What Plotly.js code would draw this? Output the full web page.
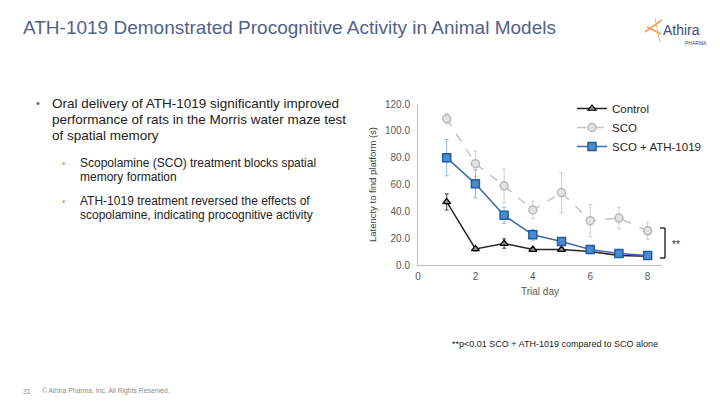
<!DOCTYPE html>
<html><head><meta charset="utf-8">
<script src="https://cdn.plot.ly/plotly-3.0.1.min.js"></script>
<style>html,body{margin:0;padding:0;background:#fff;}#chart{width:720px;height:405px;}</style>
</head><body><div id="chart"></div>
<script>
const days = [1, 2, 3, 4, 5, 6, 7, 8];
const controlMean = [47, 12, 16, 11.5, 11.5, 10, 7, 6.5];
const controlErr  = [6, 1.5, 3.5, 1.5, 1.5, 1.5, 1, 1];
const scoMean = [109, 75.5, 59, 41, 54, 33, 35, 25.5];
const scoErr  = [4, 9.5, 12.5, 6.5, 15, 12, 8, 6.5];
const athMean = [80, 60.5, 37, 22.5, 17.5, 11.5, 8.5, 7];
const athErr  = [13.5, 10.5, 6, 4, 2.5, 2, 1.5, 1];
const names = ["Control", "SCO", "SCO + ATH-1019"];
const xTicks = [0, 2, 4, 6, 8];
const yTicks = [0, 20, 40, 60, 80, 100, 120];

const traces = [
  {x: days, y: controlMean, name: names[0], type: "scatter", mode: "lines+markers",
   line: {color: "#262626", width: 1.5},
   marker: {symbol: "triangle-up", size: 7, color: "#8c8c8c", line: {color: "#000", width: 1.2}},
   error_y: {type: "data", array: controlErr, visible: true, color: "#404040", thickness: 1, width: 2}},
  {x: days, y: scoMean, name: names[1], type: "scatter", mode: "lines+markers",
   line: {color: "#c4c4c4", width: 1.5, dash: "dash"},
   marker: {symbol: "circle", size: 8, color: "#e2e2e2", line: {color: "#b8b8b8", width: 1.5}},
   error_y: {type: "data", array: scoErr, visible: true, color: "#cfcfcf", thickness: 1, width: 2}},
  {x: days, y: athMean, name: names[2], type: "scatter", mode: "lines+markers",
   line: {color: "#3f69b0", width: 1.5},
   marker: {symbol: "square", size: 8, color: "#4a8ccc", line: {color: "#1f5f9f", width: 1.5}},
   error_y: {type: "data", array: athErr, visible: true, color: "#8fb8e0", thickness: 1, width: 2}}
];

const txt = "#222222";
const bulletFont = {family: "Liberation Sans, Arial, sans-serif", size: 13.5, color: txt};
const subFont = {family: "Liberation Sans, Arial, sans-serif", size: 12, color: txt};
const ann = (x, y, text, font, extra) => Object.assign({xref: "paper", yref: "paper", x: x, y: y, text: text, showarrow: false, xanchor: "left", yanchor: "middle", font: font}, extra || {});
const L = 418, R = 662, T = 104, B = 265;
const px = v => (v - L) / (R - L);
const py = v => (B - v) / (B - T);

const annotations = [
  ann(px(21), py(27), "ATH-1019 Demonstrated Procognitive Activity in Animal Models", {family: "Liberation Sans, Arial, sans-serif", size: 19, color: "#52618a"}),
  ann(px(34), py(103), "•", {family: "Liberation Sans, Arial", size: 11, color: "#666"}),
  ann(px(50), py(103), "Oral delivery of ATH-1019 significantly improved", bulletFont),
  ann(px(50), py(119), "performance of rats in the Morris water maze test", bulletFont),
  ann(px(50), py(135), "of spatial memory", bulletFont),
  ann(px(60), py(163), "•", {family: "Liberation Sans, Arial", size: 10, color: "#f0a060"}),
  ann(px(78), py(163), "Scopolamine (SCO) treatment blocks spatial", subFont),
  ann(px(78), py(177), "memory formation", subFont),
  ann(px(60), py(201), "•", {family: "Liberation Sans, Arial", size: 10, color: "#f0a060"}),
  ann(px(78), py(201), "ATH-1019 treatment reversed the effects of", subFont),
  ann(px(78), py(215), "scopolamine, indicating procognitive activity", subFont),
  ann(px(450), py(344), "**p&lt;0.01 SCO + ATH-1019 compared to SCO alone", {family: "Liberation Sans, Arial, sans-serif", size: 9, color: txt}),
  ann(px(21), py(391), "31", {family: "Liberation Sans, Arial, sans-serif", size: 6.8, color: "#8c8c8c"}),
  ann(px(40), py(391), "© Athira Pharma, Inc. All Rights Reserved.", {family: "Liberation Sans, Arial, sans-serif", size: 6.8, color: "#8c8c8c"}),
  ann(px(670), py(244), "**", {family: "Liberation Sans, Arial, sans-serif", size: 10, color: txt}),
  ann(px(661), py(30), "Athira", {family: "Liberation Sans, Arial, sans-serif", size: 14, color: "#3d4a7a"}),
  ann(px(683), py(43), "PHARMA", {family: "Liberation Sans, Arial, sans-serif", size: 5, color: "#3d4a7a"})
];

const shapes = [
  {type: "line", xref: "paper", yref: "paper", x0: px(665), x1: px(665), y0: py(228), y1: py(258), line: {color: "#000", width: 1.2}},
  {type: "line", xref: "paper", yref: "paper", x0: px(660), x1: px(665), y0: py(228), y1: py(228), line: {color: "#000", width: 1.2}},
  {type: "line", xref: "paper", yref: "paper", x0: px(660), x1: px(665), y0: py(258), y1: py(258), line: {color: "#000", width: 1.2}},
  {type: "line", xref: "paper", yref: "paper", x0: px(645), x1: px(662), y0: py(32), y1: py(20), line: {color: "#f0a050", width: 1.6}},
  {type: "line", xref: "paper", yref: "paper", x0: px(647), x1: px(661), y0: py(27), y1: py(34), line: {color: "#f0a050", width: 1.6}},
  {type: "line", xref: "paper", yref: "paper", x0: px(655), x1: px(660), y0: py(18), y1: py(42), line: {color: "#f5b070", width: 1}}
];

const layout = {
  width: 720, height: 405,
  margin: {l: L, r: 720 - R, t: T, b: 405 - B, pad: 0, autoexpand: false},
  paper_bgcolor: "#fff", plot_bgcolor: "#fff",
  font: {family: "Liberation Sans, Arial, sans-serif", size: 10, color: "#595959"},
  showlegend: true,
  legend: {xref: "paper", yref: "paper", x: px(572), y: py(94), xanchor: "left", yanchor: "top",
           bgcolor: "rgba(0,0,0,0)", font: {size: 11.5, color: "#262626"}, tracegroupgap: 0, itemwidth: 30},
  xaxis: {range: [0, 8.5], tickvals: xTicks, ticktext: xTicks.map(String), showgrid: false, zeroline: false, automargin: false,
          showline: true, linecolor: "#bfbfbf", linewidth: 1, ticks: "", ticklabelstandoff: 2, tickfont: {size: 10, color: "#595959"},
          title: {text: "Trial day", font: {size: 10, color: "#595959"}, standoff: 6}},
  yaxis: {range: [0, 120], tickvals: yTicks, ticktext: yTicks.map(v => v.toFixed(1)), showgrid: false, zeroline: false, automargin: false,
          showline: true, linecolor: "#bfbfbf", linewidth: 1, ticks: "", ticklabelstandoff: 5, tickfont: {size: 10, color: "#595959"},
          title: {text: "Latencty to find platform (s)", font: {size: 9.5, color: "#404040"}, standoff: 6}},
  annotations: annotations,
  shapes: shapes
};
Plotly.newPlot("chart", traces, layout, {staticPlot: true, displayModeBar: false});
</script></body></html>
